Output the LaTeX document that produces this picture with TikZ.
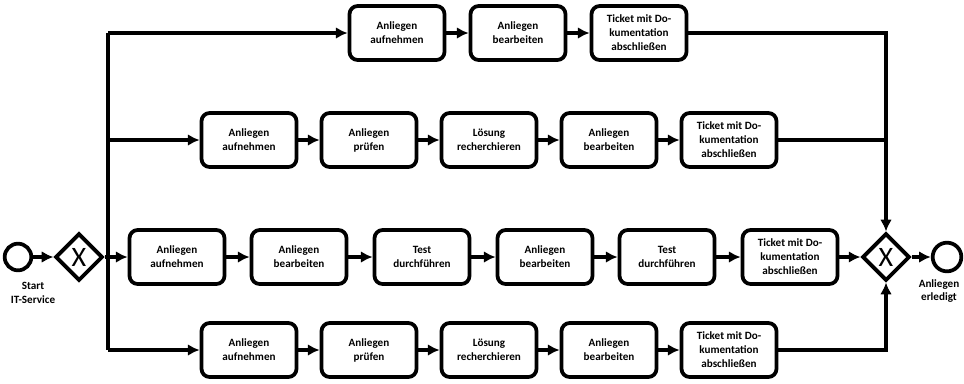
\documentclass[tikz,border=0pt]{standalone}
\usepackage{fontspec}
\setmainfont{Carlito}
\usepackage{tikz}
\usetikzlibrary{arrows.meta,shapes.geometric,calc}

\begin{document}
\begin{tikzpicture}[x=0.03cm,y=-0.03cm,line width=3.2pt,
    task/.style={draw,rounded corners=7pt,minimum width=2.85cm,minimum height=1.62cm,
      align=center,font=\bfseries\fontsize{9.5}{12}\selectfont,inner sep=1pt},
    gate/.style={draw,diamond,minimum width=1.42cm,minimum height=1.42cm,inner sep=0pt,
      font=\fontsize{24}{24}\selectfont},
    event/.style={draw,circle,inner sep=0pt},
    lbl/.style={align=center,font=\bfseries\fontsize{9.5}{11.5}\selectfont},
    flow/.style={-{Latex[length=10pt,width=10pt]}}]

        \useasboundingbox (0,0) rectangle (964,383);

        % start and split
        \node[event,minimum size=0.8cm] (start) at (18,257) {};
        \node[lbl] (startlbl) at (33,293) {Start\\IT-Service};
        \node[gate] (split) at (79,257) {X};
        \coordinate (s1) at (108,33);
        \coordinate (s2) at (108,140);
        \coordinate (s4) at (108,350);

        % first path
        \node[task] (a1) at (397,33) {Anliegen\\aufnehmen};
        \node[task] (a2) at (518,33) {Anliegen\\bearbeiten};
        \node[task] (a3) at (639,33) {Ticket mit Do-\\kumentation\\abschließen};

        % second path
        \node[task] (b1) at (249,140) {Anliegen\\aufnehmen};
        \node[task] (b2) at (369,140) {Anliegen\\prüfen};
        \node[task] (b3) at (489,140) {Lösung\\recherchieren};
        \node[task] (b4) at (609,140) {Anliegen\\bearbeiten};
        \node[task] (b5) at (729,140) {Ticket mit Do-\\kumentation\\abschließen};

        % third path
        \node[task] (c1) at (177,257) {Anliegen\\aufnehmen};
        \node[task] (c2) at (299,257) {Anliegen\\bearbeiten};
        \node[task] (c3) at (422,257) {Test\\durchführen};
        \node[task] (c4) at (545,257) {Anliegen\\bearbeiten};
        \node[task] (c5) at (667,257) {Test\\durchführen};
        \node[task] (c6) at (790,257) {Ticket mit Do-\\kumentation\\abschließen};

        % fourth path
        \node[task] (d1) at (249,350) {Anliegen\\aufnehmen};
        \node[task] (d2) at (369,350) {Anliegen\\prüfen};
        \node[task] (d3) at (489,350) {Lösung\\recherchieren};
        \node[task] (d4) at (609,350) {Anliegen\\bearbeiten};
        \node[task] (d5) at (729,350) {Ticket mit Do-\\kumentation\\abschließen};

        % join and end
        \node[gate] (join) at (886,257) {X};
        \node[event,minimum size=0.86cm] (stop) at (947,257) {};
        \node[lbl] (stoplbl) at (939,291) {Anliegen\\erledigt};
        \coordinate (j1) at (886,33);
        \coordinate (j2) at (886,140);
        \coordinate (j4) at (886,350);

        \draw[flow] (start) -- (split);
        \draw (s1) -- (s4);
        \draw[flow] (split) -- (c1);
        \draw[flow] (s1) -- (a1);
        \draw[flow] (s2) -- (b1);
        \draw[flow] (s4) -- (d1);

        \draw[flow] (a1) -- (a2);
        \draw[flow] (a2) -- (a3);
        \draw[flow] (b1) -- (b2);
        \draw[flow] (b2) -- (b3);
        \draw[flow] (b3) -- (b4);
        \draw[flow] (b4) -- (b5);
        \draw[flow] (c1) -- (c2);
        \draw[flow] (c2) -- (c3);
        \draw[flow] (c3) -- (c4);
        \draw[flow] (c4) -- (c5);
        \draw[flow] (c5) -- (c6);
        \draw[flow] (d1) -- (d2);
        \draw[flow] (d2) -- (d3);
        \draw[flow] (d3) -- (d4);
        \draw[flow] (d4) -- (d5);

        \draw[flow] (a3) -- (j1) -- (join);
        \draw (b5) -- (j2);
        \draw[flow] (c6) -- (join);
        \draw[flow] (d5) -- (j4) -- (join);
        \draw[flow] (join) -- (stop);

      \end{tikzpicture}
\end{document}
